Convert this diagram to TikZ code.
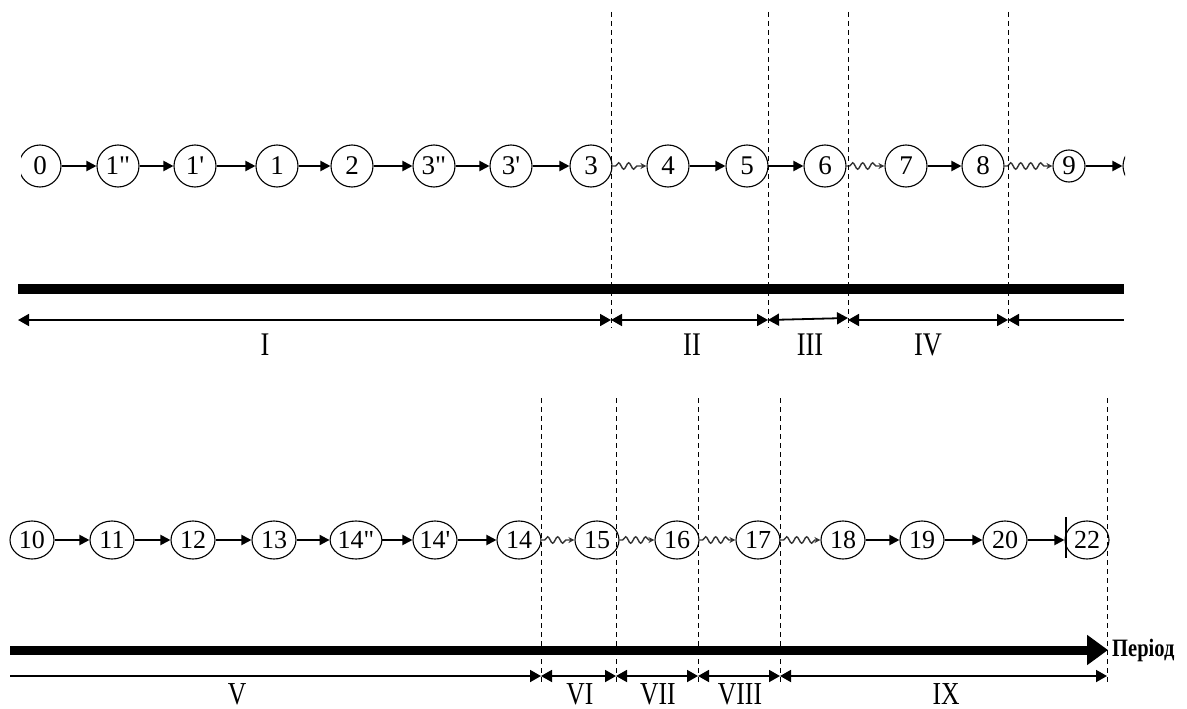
\documentclass[tikz,border=0pt]{standalone}
\usepackage{fontspec}
\usepackage{graphicx}
\setmainfont{Liberation Serif}[Ligatures=TeXOff]
\usetikzlibrary{arrows.meta,shapes.geometric,decorations.pathmorphing}
\newcommand{\narrow}[1]{\scalebox{0.8}[1]{#1}}
\tikzset{
  ev/.style={circle, draw, line width=1.1pt, minimum size=42pt, inner sep=0pt, font=\fontsize{27}{27}\selectfont},
  evs/.style={ev, minimum size=32pt},
  evb/.style={ellipse, draw, line width=1.1pt, minimum width=44pt, minimum height=38pt, inner sep=0pt, font=\fontsize{26}{26}\selectfont},
  flow/.style={line width=2pt, -{Triangle[length=10pt,width=10pt]}},
  wavy/.style={draw=black!80, line width=1.4pt, decorate,
    decoration={snake, amplitude=3.2pt, segment length=10pt, pre length=3pt, post length=5pt},
    -{Stealth[length=6pt,width=6pt]}},
  dimboth/.style={line width=1.8pt, {Triangle[length=11pt,width=12pt]}-{Triangle[length=11pt,width=12pt]}},
  dimleft/.style={line width=1.8pt, {Triangle[length=11pt,width=12pt]}-},
  dimright/.style={line width=1.8pt, -{Triangle[length=11pt,width=12pt]}},
  vdash/.style={line width=0.9pt, dash pattern=on 5pt off 4pt},
  roman/.style={anchor=base, inner sep=0pt, font=\fontsize{33}{33}\selectfont},
  romanlow/.style={anchor=base, inner sep=0pt, font=\fontsize{32}{32}\selectfont},
}
\begin{document}
\begin{tikzpicture}[x=1pt,y=-1pt]
\useasboundingbox (0,0) rectangle (1187,709);

% ---------- upper row ----------
\begin{scope}
\clip (21,100) rectangle (1125,230);
\node[ev] (n0) at (40,166) {0};
\node[ev] (n1dd) at (118,166) {1"};
\node[ev] (n1d) at (195,166) {1'};
\node[ev] (n1) at (277,166) {1};
\node[ev] (n2) at (352,166) {2};
\node[ev] (n3dd) at (434,166) {3"};
\node[ev] (n3d) at (511,166) {3'};
\node[ev] (n3) at (591,166) {3};
\node[ev] (n4) at (668,166) {4};
\node[ev] (n5) at (747,166) {5};
\node[ev] (n6) at (825,166) {6};
\node[ev] (n7) at (906,166) {7};
\node[ev] (n8) at (983,166) {8};
\node[evs] (n9) at (1069,166) {9};
\node[ev] (nx) at (1144,166) {};
\draw[flow] (n0) -- (n1dd);
\draw[flow] (n1dd) -- (n1d);
\draw[flow] (n1d) -- (n1);
\draw[flow] (n1) -- (n2);
\draw[flow] (n2) -- (n3dd);
\draw[flow] (n3dd) -- (n3d);
\draw[flow] (n3d) -- (n3);
\draw[wavy] (n3) -- (n4);
\draw[flow] (n4) -- (n5);
\draw[flow] (n5) -- (n6);
\draw[wavy] (n6) -- (n7);
\draw[flow] (n7) -- (n8);
\draw[wavy] (n8) -- (n9);
\draw[flow] (n9) -- (nx);
\end{scope}

% upper dashed lines
\foreach \x/\n in {611/1,768/2,848/3,1008/4}{
  \coordinate (vt\n) at (\x,12);
  \coordinate (vb\n) at (\x,328);
  \draw[vdash] (vt\n) -- (vb\n);
}

% upper bar
\coordinate (b1l) at (18,289);
\coordinate (b1r) at (1124,289);
\draw[line width=10pt] (b1l) -- (b1r);

% upper dimension line
\coordinate (a0) at (18,320);
\coordinate (a1) at (611,320);
\coordinate (a2) at (768,320);
\coordinate (a3s) at (848,318);
\coordinate (a3) at (848,320);
\coordinate (a4) at (1008,320);
\coordinate (a5) at (1124,320);
\draw[dimboth] (a0) -- (a1);
\draw[dimboth] (a1) -- (a2);
\draw[dimboth] (a2) -- (a3s);
\draw[dimboth] (a3) -- (a4);
\draw[dimleft] (a4) -- (a5);

\node[roman] (L1) at (265,355) {\narrow{I}};
\node[roman] (L2) at (692,355) {\narrow{II}};
\node[roman] (L3) at (810,355) {\narrow{III}};
\node[roman] (L4) at (928,355) {\narrow{IV}};

% ---------- lower row ----------
\node[evb] (m10) at (32,540) {10};
\node[evb] (m11) at (112,540) {11};
\node[evb] (m12) at (193,540) {12};
\node[evb] (m13) at (274,540) {13};
\node[evb] (m14dd) at (356,540) {14"};
\node[evb] (m14d) at (435,540) {14'};
\node[evb] (m14) at (519,540) {14};
\node[evb] (m15) at (597,540) {15};
\node[evb] (m16) at (677,540) {16};
\node[evb] (m17) at (758,540) {17};
\node[evb] (m18) at (843,540) {18};
\node[evb] (m19) at (922,540) {19};
\node[evb] (m20) at (1005,540) {20};
\node[evb] (m22) at (1087,540) {22};
\draw[flow] (m10) -- (m11);
\draw[flow] (m11) -- (m12);
\draw[flow] (m12) -- (m13);
\draw[flow] (m13) -- (m14dd);
\draw[flow] (m14dd) -- (m14d);
\draw[flow] (m14d) -- (m14);
\draw[wavy] (m14) -- (m15);
\draw[wavy] (m15) -- (m16);
\draw[wavy] (m16) -- (m17);
\draw[wavy] (m17) -- (m18);
\draw[flow] (m18) -- (m19);
\draw[flow] (m19) -- (m20);
\draw[flow] (m20) -- (m22);
\coordinate (bt) at (1066,517);
\coordinate (bb) at (1066,558);
\draw[line width=2.5pt] (bt) -- (bb);

% lower dashed lines
\foreach \x/\n in {541/1,616/2,698/3,780/4,1107/5}{
  \coordinate (wt\n) at (\x,398);
  \coordinate (wb\n) at (\x,684);
  \draw[vdash] (wt\n) -- (wb\n);
}

% lower bar with arrow
\coordinate (b2l) at (10,650);
\coordinate (b2r) at (1108,650);
\draw[line width=9pt, -{Triangle[length=21pt,width=29pt]}] (b2l) -- (b2r);
\node[anchor=west, inner sep=0pt, font=\bfseries\fontsize{25}{25}\selectfont] (per) at (1112,650) {\scalebox{0.82}[1]{Період}};

% lower dimension line
\coordinate (c0) at (10,676);
\coordinate (c1) at (541,676);
\coordinate (c2) at (616,676);
\coordinate (c3) at (698,676);
\coordinate (c4) at (780,676);
\coordinate (c5) at (1107,676);
\draw[dimright] (c0) -- (c1);
\draw[dimboth] (c1) -- (c2);
\draw[dimboth] (c2) -- (c3);
\draw[dimboth] (c3) -- (c4);
\draw[dimboth] (c4) -- (c5);

\node[romanlow] (L5) at (237,704) {\narrow{V}};
\node[romanlow] (L6) at (580,704) {\narrow{VI}};
\node[romanlow] (L7) at (658,704) {\narrow{VII}};
\node[romanlow] (L8) at (740,704) {\narrow{VIII}};
\node[romanlow] (L9) at (946,704) {\narrow{IX}};
\end{tikzpicture}
\end{document}
